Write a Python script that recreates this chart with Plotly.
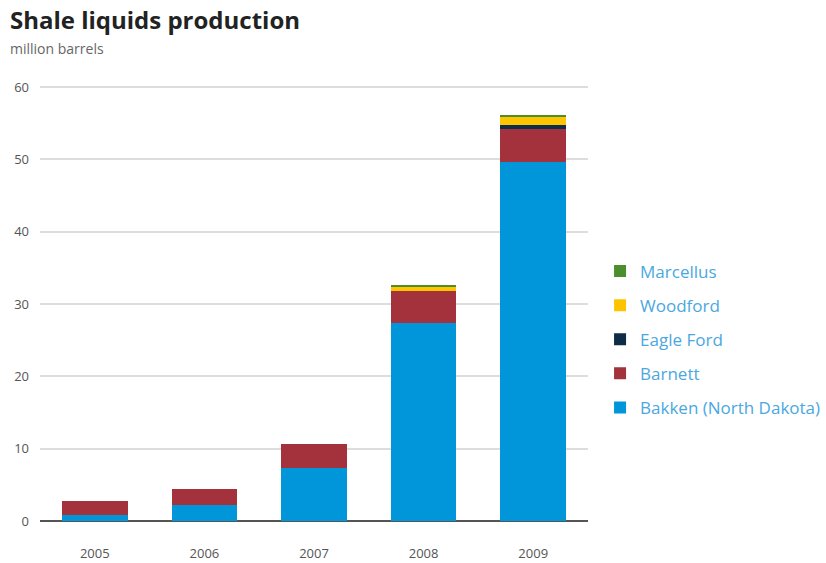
import plotly.graph_objects as go

years = ["2005", "2006", "2007", "2008", "2009"]
bakken = [0.8, 2.2, 7.3, 27.4, 49.6]
barnett = [1.9, 2.2, 3.3, 4.4, 4.6]
eagle_ford = [0, 0, 0, 0, 0.6]
woodford = [0, 0, 0, 0.6, 1.1]
marcellus = [0, 0, 0, 0.1, 0.2]

series = [
    ("Bakken (North Dakota)", bakken, "#0096d9"),
    ("Barnett", barnett, "#a3323c"),
    ("Eagle Ford", eagle_ford, "#0c2c48"),
    ("Woodford", woodford, "#ffc400"),
    ("Marcellus", marcellus, "#4a8f2c"),
]

fig = go.Figure()
for i, (name, vals, col) in enumerate(series):
    fig.add_trace(go.Bar(x=years, y=vals, name=name, marker=dict(color=col, line=dict(width=0)),
                         legendgroup=name, legendrank=1000 - i))

fig.update_layout(
    width=826, height=563,
    barmode="stack", bargap=0.4,
    plot_bgcolor="white", paper_bgcolor="white",
    margin=dict(l=40, r=238, t=86, b=42, autoexpand=False),
    font=dict(family="Open Sans", color="#555555", size=13),
    title=dict(text="<b>Shale liquids production</b>", x=0.012, xanchor="left", y=0.963, yanchor="middle",
               font=dict(size=24, color="#222222", family="Open Sans")),
    annotations=[dict(text="million barrels", xref="paper", yref="paper", x=-0.058, y=1.087,
                      xanchor="left", yanchor="middle", showarrow=False,
                      font=dict(size=14, color="#666666"))],
    legend=dict(traceorder="grouped", x=1.022, xanchor="left", y=0.615, yanchor="top",
                font=dict(size=17, color="#4aa8e0"), tracegroupgap=9, itemwidth=30),
    showlegend=True,
)
fig.update_yaxes(range=[0, 60.15], dtick=10, showgrid=True, gridcolor="#dddddd", gridwidth=2,
                 zeroline=True, zerolinecolor="#555555", zerolinewidth=2, showline=False,
                 automargin=False, ticklabelstandoff=10,
                 tickfont=dict(size=13, color="#555555"))
fig.update_xaxes(showgrid=False, showline=False, ticks="outside", ticklen=20, tickcolor="white",
                 automargin=False, tickfont=dict(size=13, color="#555555"))

fig.write_html("out.html")
